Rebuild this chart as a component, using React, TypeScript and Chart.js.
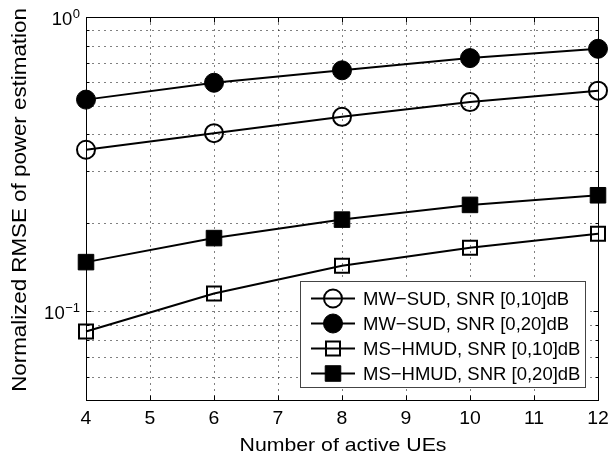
import React, { useEffect, useRef } from 'react';
import { Chart, registerables } from 'chart.js';

Chart.register(...registerables);

// ---- data ----
const activeUEs = [4, 6, 8, 10, 12];
const mwSud10 = [0.354, 0.403, 0.458, 0.514, 0.562];
const mwSud20 = [0.524, 0.598, 0.659, 0.725, 0.78];
const msHmud10 = [0.0854, 0.115, 0.143, 0.1645, 0.1834];
const msHmud20 = [0.147, 0.1774, 0.205, 0.23, 0.248];
const seriesLabels = [
  'MW−SUD, SNR [0,10]dB',
  'MW−SUD, SNR [0,20]dB',
  'MS−HMUD, SNR [0,10]dB',
  'MS−HMUD, SNR [0,20]dB',
];
const xTickValues = [4, 5, 6, 7, 8, 9, 10, 11, 12];
const yMajorValues = [0.1, 1];
const yMajorExponents = ['−1', '0'];
const yMinorValues = [0.05, 0.06, 0.07, 0.08, 0.09, 0.2, 0.3, 0.4, 0.5, 0.6, 0.7, 0.8, 0.9];
const xTitle = 'Number of active UEs';
const yTitle = 'Normalized RMSE of power estimation';

const seriesValues = [mwSud10, mwSud20, msHmud10, msHmud20];
const markerShapes = ['circle', 'circle', 'rect', 'rect'];
const markerFilled = [false, true, false, true];

const FONT = '"Liberation Sans", Arial, Helvetica, sans-serif';

function markerRadius(i: number) {
  if (markerShapes[i] === 'circle') return markerFilled[i] ? 9.5 : 9;
  return markerFilled[i] ? 11 : 9.9;
}

function drawText(
  ctx: CanvasRenderingContext2D,
  text: string,
  x: number,
  y: number,
  size: number,
  sx: number,
  align: CanvasTextAlign,
) {
  ctx.save();
  ctx.font = `${size}px ${FONT}`;
  ctx.fillStyle = '#000';
  ctx.textBaseline = 'alphabetic';
  ctx.textAlign = align;
  ctx.translate(x, y);
  ctx.scale(sx, 1);
  ctx.fillText(text, 0, 0);
  ctx.restore();
}

function drawMarker(ctx: CanvasRenderingContext2D, i: number, x: number, y: number) {
  const r = markerRadius(i);
  ctx.save();
  ctx.strokeStyle = '#000';
  ctx.fillStyle = '#000';
  ctx.lineWidth = markerFilled[i] ? 1 : 2;
  ctx.beginPath();
  if (markerShapes[i] === 'circle') {
    ctx.arc(x, y, r, 0, Math.PI * 2);
  } else {
    const h = r * Math.SQRT1_2;
    ctx.rect(x - h, y - h, 2 * h, 2 * h);
  }
  if (markerFilled[i]) ctx.fill();
  ctx.stroke();
  ctx.restore();
}

const matlabPlugin = {
  id: 'matlabAxes',
  beforeDatasetsDraw(chart: any) {
    const { ctx, chartArea: a, scales } = chart;
    const xs = scales.x;
    const ys = scales.y;
    const L = Math.round(a.left) + 0.5;
    const R = Math.round(a.right) + 0.5;
    const T = Math.round(a.top) + 0.5;
    const B = Math.round(a.bottom) + 0.5;
    ctx.save();
    // dotted grid
    ctx.strokeStyle = '#000';
    ctx.lineWidth = 1;
    ctx.setLineDash([1, 5]);
    for (const v of xTickValues) {
      const px = Math.round(xs.getPixelForValue(v)) + 0.5;
      if (px <= L + 1 || px >= R - 1) continue;
      ctx.beginPath();
      ctx.moveTo(px, T);
      ctx.lineTo(px, B);
      ctx.stroke();
    }
    for (const v of [...yMinorValues, ...yMajorValues]) {
      const py = Math.round(ys.getPixelForValue(v)) + 0.5;
      if (py <= T + 1 || py >= B - 1) continue;
      ctx.beginPath();
      ctx.moveTo(L, py);
      ctx.lineTo(R, py);
      ctx.stroke();
    }
    ctx.setLineDash([]);
    // inward ticks
    ctx.beginPath();
    for (const v of xTickValues) {
      const px = Math.round(xs.getPixelForValue(v)) + 0.5;
      ctx.moveTo(px, B);
      ctx.lineTo(px, B - 5);
      ctx.moveTo(px, T);
      ctx.lineTo(px, T + 5);
    }
    for (const v of yMajorValues) {
      const py = Math.round(ys.getPixelForValue(v)) + 0.5;
      ctx.moveTo(L, py);
      ctx.lineTo(L + 5, py);
      ctx.moveTo(R, py);
      ctx.lineTo(R - 5, py);
    }
    for (const v of yMinorValues) {
      const py = Math.round(ys.getPixelForValue(v)) + 0.5;
      ctx.moveTo(L, py);
      ctx.lineTo(L + 3, py);
      ctx.moveTo(R, py);
      ctx.lineTo(R - 3, py);
    }
    ctx.stroke();
    // box
    ctx.strokeRect(L, T, R - L, B - T);

    // x tick labels
    for (const v of xTickValues) {
      const px = xs.getPixelForValue(v);
      drawText(ctx, String(v), px, a.bottom + 24, 18.5, 1.05, 'center');
    }
    // y tick labels (10^n)
    ctx.font = `18.5px ${FONT}`;
    yMajorValues.forEach((v, k) => {
      const py = ys.getPixelForValue(v);
      const exp = yMajorExponents[k];
      ctx.font = `13px ${FONT}`;
      const ew = ctx.measureText(exp).width;
      const right = a.left - 6;
      drawText(ctx, exp, right - ew, py + 0.5, 13, 1, 'left');
      drawText(ctx, '10', right - ew - 0.5, py + 7.5, 18.5, 1, 'right');
    });
    // x title
    drawText(ctx, xTitle, (a.left + a.right) / 2 + 1, 450.5, 19, 1.12, 'center');
    // y title
    ctx.save();
    ctx.translate(26, 200);
    ctx.rotate(-Math.PI / 2);
    ctx.font = `20.5px ${FONT}`;
    ctx.scale(1.09, 1);
    ctx.textAlign = 'center';
    ctx.textBaseline = 'alphabetic';
    ctx.fillStyle = '#000';
    ctx.fillText(yTitle, 0, 0);
    ctx.restore();
    ctx.restore();
  },
  afterDatasetsDraw(chart: any) {
    const { ctx } = chart;
    ctx.save();
    const bx = 300.5;
    const by = 281.5;
    const bw = 285;
    const bh = 106;
    ctx.fillStyle = '#fff';
    ctx.fillRect(bx, by, bw, bh);
    ctx.strokeStyle = '#444';
    ctx.lineWidth = 1;
    ctx.strokeRect(bx, by, bw, bh);
    seriesLabels.forEach((label, i) => {
      const ry = 298.5 + i * 25;
      ctx.strokeStyle = '#000';
      ctx.lineWidth = 2;
      ctx.beginPath();
      ctx.moveTo(311, ry);
      ctx.lineTo(355, ry);
      ctx.stroke();
      drawMarker(ctx, i, 333, ry);
      drawText(ctx, label, 363, ry + 6.5, 18.5, 1, 'left');
    });
    ctx.restore();
  },
};

export default function App() {
  const ref = useRef<HTMLCanvasElement>(null);
  useEffect(() => {
    const canvas = ref.current;
    if (!canvas) return;
    const datasets = seriesValues.map((vals, i) => ({
      label: seriesLabels[i],
      data: activeUEs.map((x, k) => ({ x, y: vals[k] })),
      borderColor: '#000',
      borderWidth: 2,
      backgroundColor: '#000',
      fill: false,
      tension: 0,
      clip: false as any,
      pointStyle: markerShapes[i] as any,
      pointRadius: markerRadius(i),
      pointHoverRadius: markerRadius(i),
      pointBorderWidth: markerFilled[i] ? 1 : 2,
      pointBorderColor: '#000',
      pointBackgroundColor: markerFilled[i] ? '#000' : 'rgba(0,0,0,0)',
    }));
    const chart = new Chart(canvas, {
      type: 'line',
      data: { datasets },
      options: {
        responsive: false,
        animation: false,
        devicePixelRatio: 1,
        layout: { padding: { left: 86, right: 12, top: 17, bottom: 54 } },
        plugins: { legend: { display: false }, tooltip: { enabled: false } },
        events: [],
        scales: {
          x: { type: 'linear', min: 4, max: 12, display: false },
          y: { type: 'logarithmic', min: 0.05, max: 1, display: false },
        },
      },
      plugins: [matlabPlugin],
    });
    return () => chart.destroy();
  }, []);
  return (
    <div style={{ position: 'absolute', left: 0, top: 0, width: 610, height: 454, background: '#fff' }}>
      <canvas ref={ref} width={610} height={454} style={{ display: 'block' }} />
    </div>
  );
}
